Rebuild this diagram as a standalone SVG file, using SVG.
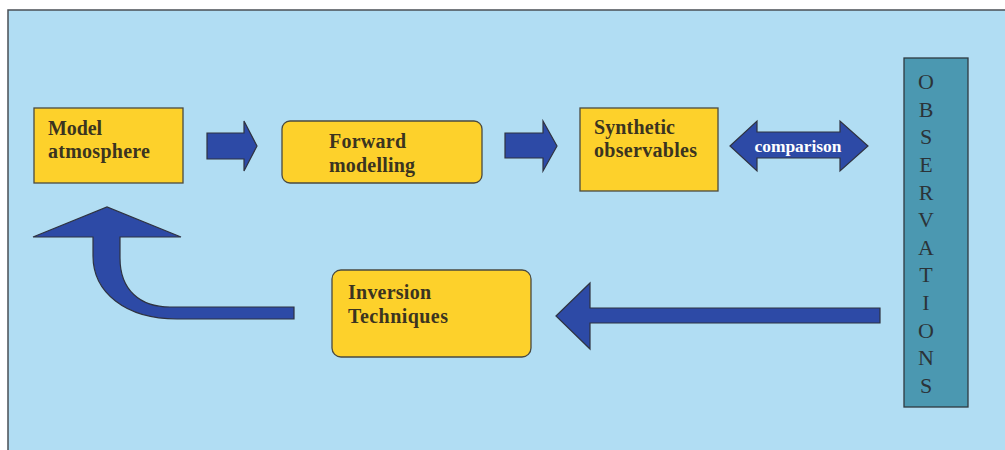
<svg xmlns="http://www.w3.org/2000/svg" width="1005" height="450" viewBox="0 0 1005 450">
<style>
.box{fill:#fdd12b;stroke:#4a4a40;stroke-width:1.3}
.lbl{font-family:"Liberation Serif","Times New Roman",serif;font-weight:bold;font-size:20px;fill:#3b3420}
.arr{fill:#2d4aa6;stroke:#2f3340;stroke-width:1.2;stroke-linejoin:miter}
.obs{font-family:"Liberation Serif","Times New Roman",serif;font-size:22px;fill:#2b3338;text-anchor:middle}
</style>
<rect x="0" y="0" width="1005" height="450" fill="#ffffff"/>
<rect x="8" y="10" width="1010" height="460" fill="#b1ddf3" stroke="#4a4f55" stroke-width="1.5"/>

<g id="model-atmosphere">
<rect class="box" x="34" y="108" width="149" height="75"/>
<text class="lbl" x="48" y="135" textLength="54" lengthAdjust="spacing">Model</text>
<text class="lbl" x="48" y="158" textLength="102" lengthAdjust="spacing">atmosphere</text>
</g>

<g id="forward-modelling">
<rect class="box" x="282" y="121" width="200" height="62" rx="8"/>
<text class="lbl" x="329" y="148" textLength="77" lengthAdjust="spacing">Forward</text>
<text class="lbl" x="329" y="172" textLength="86" lengthAdjust="spacing">modelling</text>
</g>

<g id="synthetic-observables">
<rect class="box" x="580" y="108" width="138" height="83"/>
<text class="lbl" x="594" y="134" textLength="81" lengthAdjust="spacing">Synthetic</text>
<text class="lbl" x="594" y="157" textLength="103" lengthAdjust="spacing">observables</text>
</g>

<g id="inversion-techniques">
<rect class="box" x="332" y="270" width="199" height="87" rx="9"/>
<text class="lbl" x="348" y="299" textLength="83" lengthAdjust="spacing">Inversion</text>
<text class="lbl" x="348" y="323" textLength="100" lengthAdjust="spacing">Techniques</text>
</g>

<g id="observations">
<rect x="904" y="58" width="64" height="349" fill="#4b98b1" stroke="#2f3a40" stroke-width="1.3"/>
<text class="obs" x="926" y="89">O</text>
<text class="obs" x="926" y="116.6">B</text>
<text class="obs" x="926" y="144.3">S</text>
<text class="obs" x="926" y="171.9">E</text>
<text class="obs" x="926" y="199.5">R</text>
<text class="obs" x="926" y="227.2">V</text>
<text class="obs" x="926" y="254.8">A</text>
<text class="obs" x="926" y="282.4">T</text>
<text class="obs" x="926" y="310">I</text>
<text class="obs" x="926" y="337.7">O</text>
<text class="obs" x="926" y="365.3">N</text>
<text class="obs" x="926" y="393">S</text>
</g>

<g id="connectors">
<polygon class="arr" points="207,133 244,133 244,121 257,146 244,171 244,159 207,159"/>
<polygon class="arr" points="505,133 543,133 543,121 557,146 543,171 543,158 505,158"/>
<g id="comparison">
<polygon class="arr" points="730,146 757,121 757,132 840,132 840,121 868,146 840,171 840,158 757,158 757,171"/>
<text x="798" y="152" text-anchor="middle" textLength="87" lengthAdjust="spacingAndGlyphs" style="font-family:'Liberation Serif','Times New Roman',serif;font-weight:bold;font-size:16px;fill:#ffffff">comparison</text>
</g>
<polygon class="arr" points="556,316 590,283 590,308 880,308 880,323 590,323 590,349"/>
<path class="arr" d="M294,307 L170,307 C140,307 120,290 120,258 L120,237 L181,237 L107,207 L33,237 L93,237 L93,256 C93,292 125,319 177,319 L294,319 Z"/>
</g>
</svg>
